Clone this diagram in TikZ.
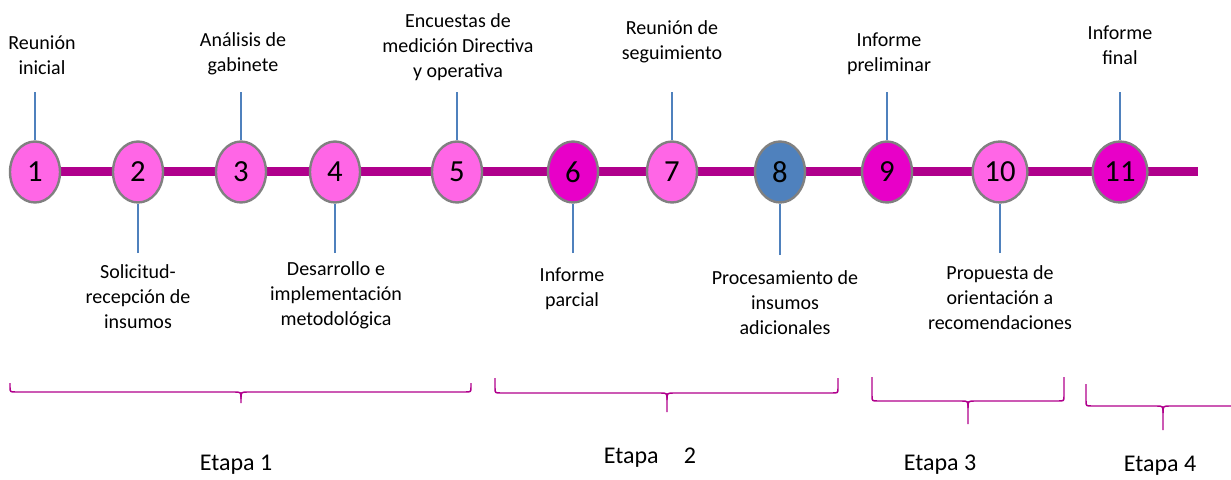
\documentclass[tikz,border=0pt]{standalone}
\usepackage{fontspec}
\setmainfont{Carlito}
\usetikzlibrary{shapes.geometric}
\definecolor{rosa}{RGB}{255,102,230}
\definecolor{fucsia}{RGB}{232,0,200}
\definecolor{azul}{RGB}{79,129,189}
\definecolor{morado}{RGB}{176,0,140}
\definecolor{borde}{RGB}{128,128,128}
% llave de etapa: x1, x2, centro, arriba, horizontal, punta
\newcommand{\etapallave}[6]{%
  \path[llave] (#1,#4) -- (#1,#5-5) .. controls (#1,#5) .. (#1+6,#5) -- (#3-7,#5) .. controls (#3,#5) .. (#3,#5+7) -- (#3,#6);
  \path[llave] (#2,#4) -- (#2,#5-5) .. controls (#2,#5) .. (#2-6,#5) -- (#3+7,#5) .. controls (#3,#5) .. (#3,#5+7);
}

\begin{document}
\begin{tikzpicture}[x=0.75pt,y=-0.75pt]
\tikzstyle{hito} = [draw=borde, line width=1.8pt, ellipse, minimum width=37.5pt, minimum height=45.75pt, inner sep=0pt, font=\fontsize{23}{27}\selectfont]
\tikzstyle{etiqueta} = [align=center, inner sep=0pt, font=\fontsize{15}{18.75}\selectfont]
\tikzstyle{tallo} = [draw=azul, line width=0.9pt]
\tikzstyle{eje} = [draw=morado, line width=6.75pt]
\tikzstyle{llave} = [draw=morado, line width=1.1pt]
\tikzstyle{etapa} = [inner sep=0pt, font=\fontsize{18}{22}\selectfont]
\useasboundingbox (0,0) rectangle (1231,479);

% eje del tiempo
\coordinate (ini) at (35,171);
\coordinate (fin) at (1198,171);
\path[eje] (ini) -- (fin);

% hitos
\node[hito, fill=rosa] (c1) at (35,172) {1};
\node[hito, fill=rosa] (c2) at (138,172) {2};
\node[hito, fill=rosa] (c3) at (241,172) {3};
\node[hito, fill=rosa] (c4) at (335,172) {4};
\node[hito, fill=rosa] (c5) at (457,172) {5};
\node[hito, fill=fucsia] (c6) at (573,172) {6};
\node[hito, fill=rosa] (c7) at (672,172) {7};
\node[hito, fill=azul] (c8) at (780,172) {8};
\node[hito, fill=fucsia] (c9) at (887,172) {9};
\node[hito, fill=rosa, minimum width=41pt] (c10) at (1000,172) {10};
\node[hito, fill=fucsia, minimum width=41pt] (c11) at (1120,172) {11};

% etiquetas de arriba
\node[etiqueta] (l1) at (42,55) {Reunión\\inicial};
\node[etiqueta] (l3) at (243,54) {Análisis de\\gabinete};
\node[etiqueta] (l5) at (458,47) {Encuestas de\\medición Directiva\\y operativa};
\node[etiqueta] (l7) at (672,42) {Reunión de\\seguimiento};
\node[etiqueta] (l9) at (889,54) {Informe\\preliminar};
\node[etiqueta] (l11) at (1120,45) {Informe\\final};

% etiquetas de abajo
\node[etiqueta] (l2) at (138,297) {Solicitud-\\recepción de\\insumos};
\node[etiqueta] (l4) at (336,295) {Desarrollo e\\implementación\\metodológica};
\node[etiqueta] (l6) at (572,289) {Informe\\parcial};
\node[etiqueta] (l8) at (785,303) {Procesamiento de\\insumos\\adicionales};
\node[etiqueta] (l10) at (1000,298) {Propuesta de\\orientación a\\recomendaciones};

% tallos
\coordinate (t1) at (35,92);
\coordinate (t3) at (241,92);
\coordinate (t5) at (457,92);
\coordinate (t7) at (672,92);
\coordinate (t9) at (887,92);
\coordinate (t11) at (1120,92);
\coordinate (t2) at (138,253);
\coordinate (t4) at (335,253);
\coordinate (t6) at (573,253);
\coordinate (t8) at (780,255);
\coordinate (t10) at (1000,253);
\path[tallo] (t1) -- (c1);
\path[tallo] (t3) -- (c3);
\path[tallo] (t5) -- (c5);
\path[tallo] (t7) -- (c7);
\path[tallo] (t9) -- (c9);
\path[tallo] (t11) -- (c11);
\path[tallo] (t2) -- (c2);
\path[tallo] (t4) -- (c4);
\path[tallo] (t6) -- (c6);
\path[tallo] (t8) -- (c8);
\path[tallo] (t10) -- (c10);

% etapas
\etapallave{10}{471}{241}{383}{392}{403}
\etapallave{495}{838}{667}{378}{393}{412}
\etapallave{872}{1064}{968}{377}{401}{424}
\etapallave{1086}{1245}{1163}{384}{406}{430}
\node[etapa] (e1) at (236,465) {Etapa 1};
\node[etapa] (e2) at (650,458) {Etapa\hspace{19pt}2};
\node[etapa] (e3) at (940,465) {Etapa 3};
\node[etapa] (e4) at (1160,466) {Etapa 4};
\end{tikzpicture}
\end{document}
